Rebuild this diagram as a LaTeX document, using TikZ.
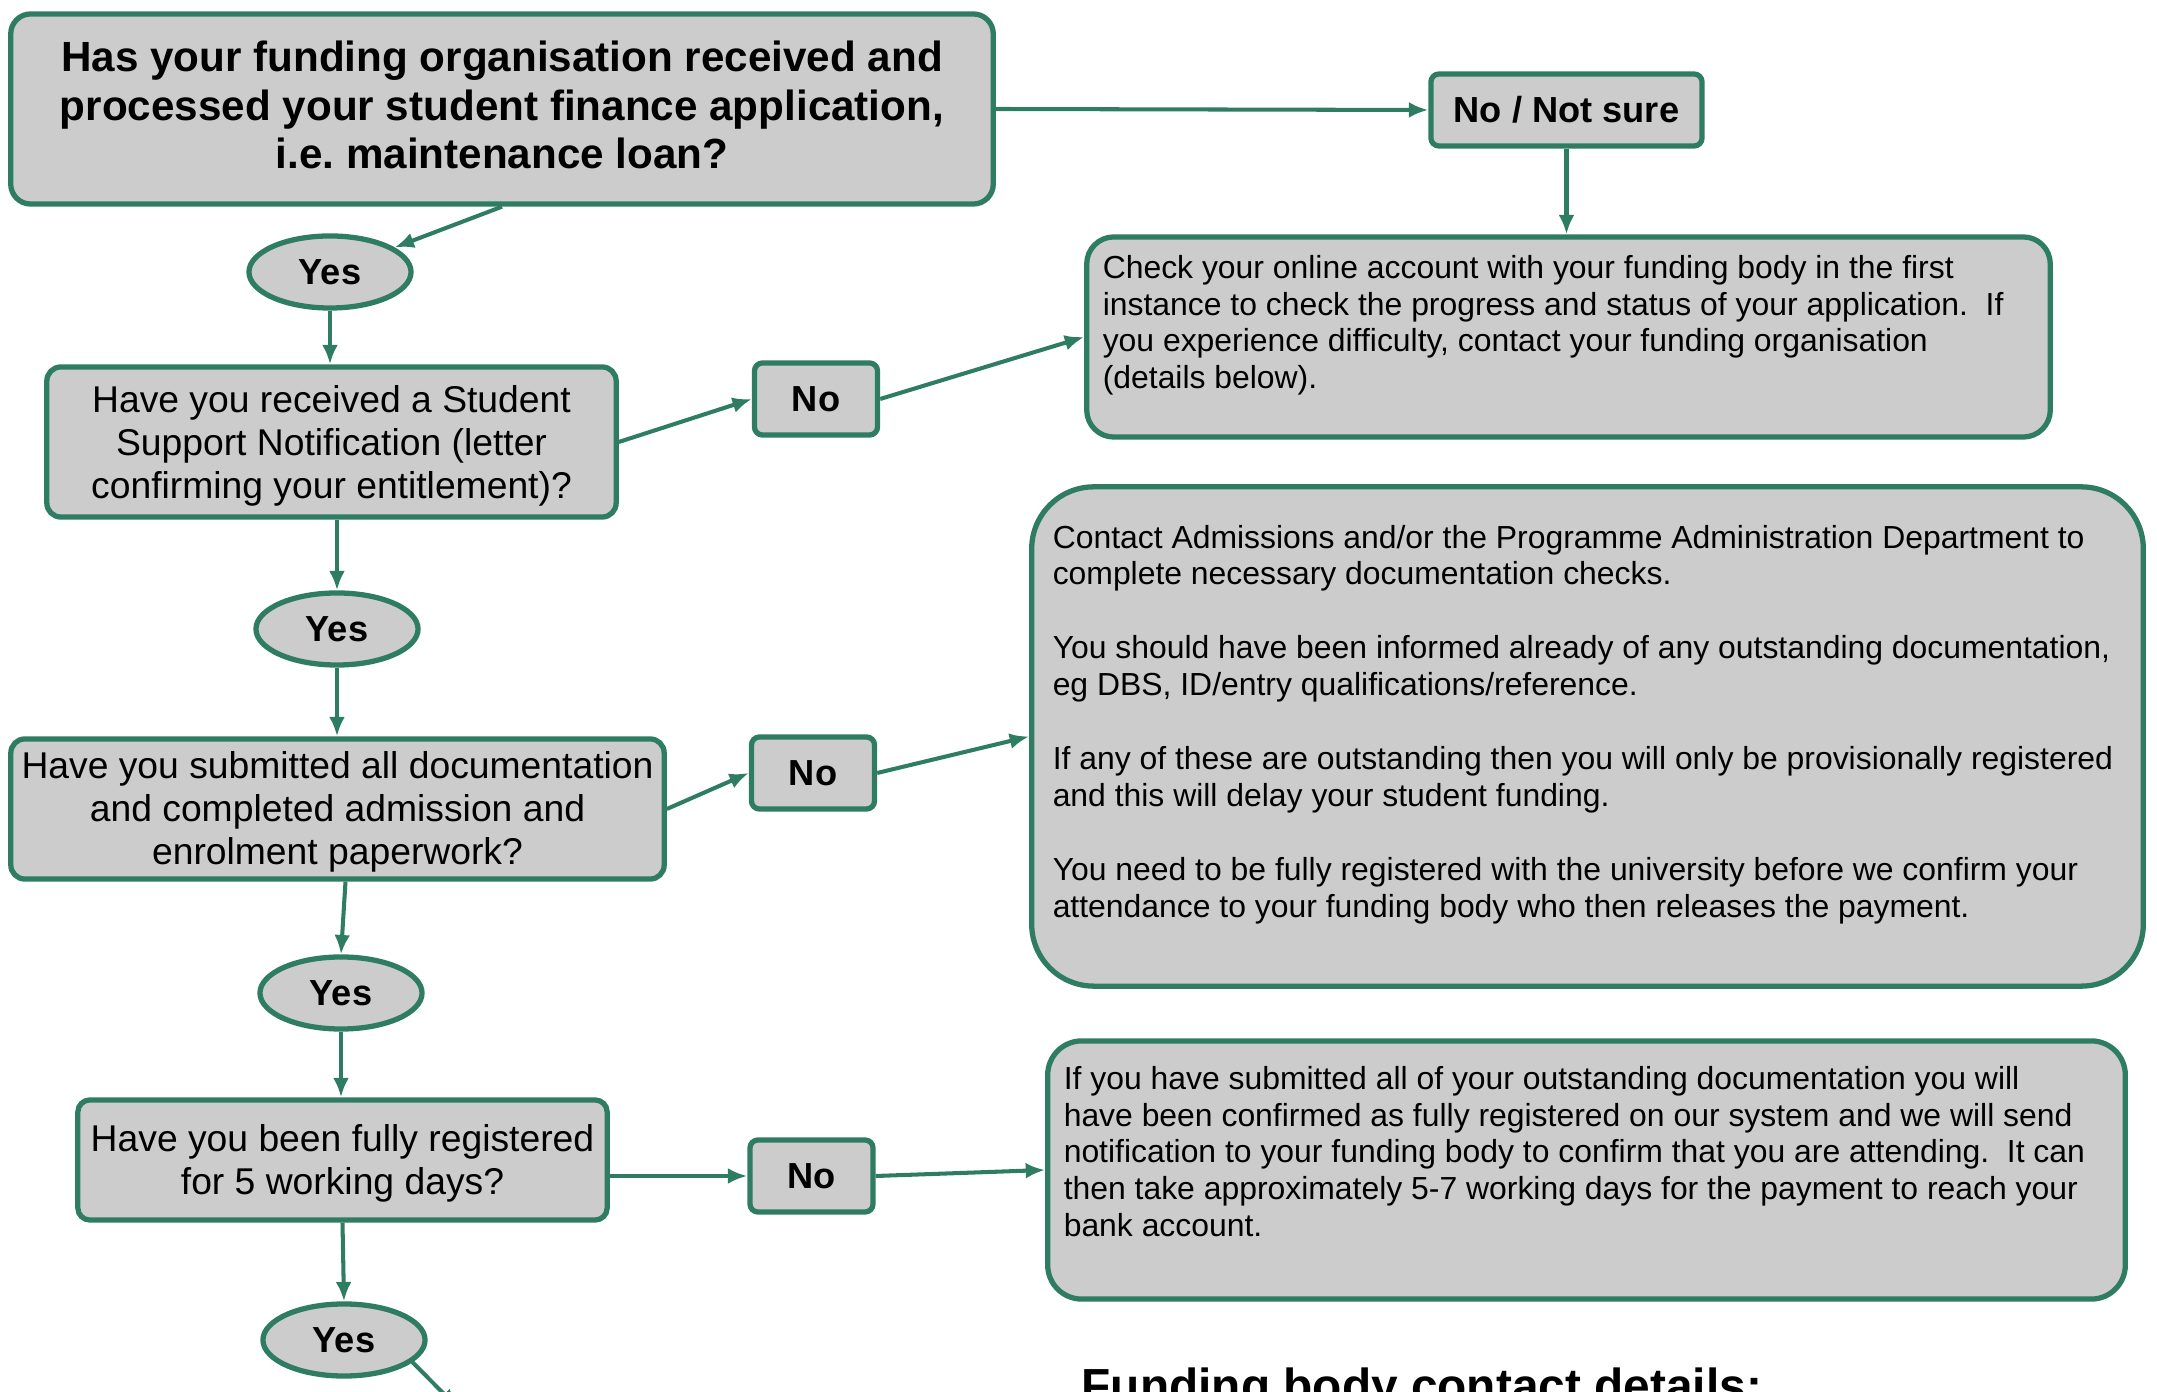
\documentclass[tikz,border=0pt]{standalone}
\usepackage{fontspec}
\setmainfont{Liberation Sans}
\usetikzlibrary{shapes.geometric,arrows.meta,calc}
\definecolor{fgreen}{RGB}{46,125,98}
\definecolor{fgrey}{RGB}{204,204,204}
\begin{document}
\begin{tikzpicture}[x=0.01cm,y=-0.01cm,
  box/.style={draw=fgreen,fill=fgrey,line width=1.5pt,rectangle,inner sep=0pt},
  qtext/.style={align=center,inner sep=0pt,font=\fontsize{10.6}{12.2}\selectfont},
  answer/.style={draw=fgreen,fill=fgrey,line width=1.5pt,rectangle,rounded corners=0.08cm,
     minimum width=1.23cm,minimum height=0.72cm,inner sep=0pt,font=\fontsize{10.3}{12}\selectfont\bfseries},
  yesnode/.style={draw=fgreen,fill=fgrey,line width=1.5pt,ellipse,minimum width=1.62cm,
     minimum height=0.72cm,inner sep=0pt,font=\fontsize{10.3}{12}\selectfont\bfseries},
  body/.style={align=left,inner sep=0pt,anchor=north west,font=\fontsize{9.07}{10.5}\selectfont},
  conn/.style={draw=fgreen,line width=1.15pt,-{Latex[length=5.5pt,width=4.5pt]}}
]
\useasboundingbox (0,0) rectangle (2157,1392);

% question boxes
\node[box,rounded corners=0.2cm,minimum width=9.82cm,minimum height=1.90cm] (q1) at (502,109) {};
\node[align=center,inner sep=0pt,font=\fontsize{12}{13.7}\selectfont\bfseries] (q1t) at ($(q1.center)+(0,-4)$)
  {Has your funding organisation received and\\ processed your student finance application,\\ i.e.\ maintenance loan?};
\node[box,rounded corners=0.14cm,minimum width=5.69cm,minimum height=1.50cm] (q2) at (331.5,442) {};
\node[qtext] (q2t) at ($(q2.center)+(0,4)$)
  {Have you received a Student\\ Support Notification (letter\\ confirming your entitlement)?};
\node[box,rounded corners=0.14cm,minimum width=6.53cm,minimum height=1.40cm] (q3) at (337.5,809) {};
\node[qtext] (q3t) at ($(q3.center)+(0,3)$)
  {Have you submitted all documentation\\ and completed admission and\\ enrolment paperwork?};
\node[box,rounded corners=0.12cm,minimum width=5.29cm,minimum height=1.20cm] (q4) at (342.5,1160) {};
\node[qtext] (q4t) at ($(q4.center)+(0,3)$)
  {Have you been fully registered\\ for 5 working days?};

% answers
\node[answer,minimum width=2.71cm] (ns) at (1566.5,110) {No / Not sure};
\node[yesnode] (y1) at (330,272) {Yes};
\node[answer] (n2) at (816,399) {No};
\node[yesnode] (y2) at (337,629) {Yes};
\node[answer] (n3) at (813,773) {No};
\node[yesnode] (y3) at (341,993) {Yes};
\node[answer] (n4) at (811.5,1176) {No};
\node[yesnode] (y4) at (344,1340) {Yes};

% info boxes
\node[box,rounded corners=0.27cm,minimum width=9.63cm,minimum height=2.00cm] (chk) at (1568.5,337) {};
\node[body] (chkt) at ($(chk.north west)+(18,20)$)
  {Check your online account with your funding body in the first\\
   instance to check the progress and status of your application.\ \ If\\
   you experience difficulty, contact your funding organisation\\
   (details below).};

\node[box,rounded corners=0.62cm,minimum width=11.11cm,minimum height=4.99cm] (big) at (1587.5,736.5) {};
\node[body] (bigt) at ($(big.north west)+(23,40)$)
  {Contact Admissions and/or the Programme Administration Department to\\
   complete necessary documentation checks.\\[10.5pt]
   You should have been informed already of any outstanding documentation,\\
   eg DBS, ID/entry qualifications/reference.\\[10.5pt]
   If any of these are outstanding then you will only be provisionally registered\\
   and this will delay your student funding.\\[10.5pt]
   You need to be fully registered with the university before we confirm your\\
   attendance to your funding body who then releases the payment.};

\node[box,rounded corners=0.34cm,minimum width=10.77cm,minimum height=2.58cm] (b4) at (1586.5,1170) {};
\node[body] (b4t) at ($(b4.north west)+(18,27)$)
  {If you have submitted all of your outstanding documentation you will\\
   have been confirmed as fully registered on our system and we will send\\
   notification to your funding body to confirm that you are attending.\ \ It can\\
   then take approximately 5-7 working days for the payment to reach your\\
   bank account.};

\node[inner sep=0pt,anchor=north west,font=\fontsize{13.6}{16}\selectfont\bfseries] (fund) at (1081,1367)
  {Funding body contact details:};

% connectors
\draw[conn] (q1.east) -- (ns.west);
\draw[conn] (ns.south) -- (ns.south |- chk.north);
\draw[conn] (q1.south) -- (y1);
\draw[conn] (y1.south) -- (y1.south |- q2.north);
\draw[conn] (q2.east) -- (n2.west);
\draw[conn] (n2.east) -- (chk.west);
\draw[conn] (y2.north |- q2.south) -- (y2.north);
\draw[conn] (y2.south) -- (y2.south |- q3.north);
\draw[conn] (q3.east) -- (n3.west);
\draw[conn] (n3.east) -- (big.west);
\draw[conn] ($(q3.south)+(8,0)$) -- (y3.north);
\draw[conn] (y3.south) -- (y3.south |- q4.north);
\draw[conn] (q4.east |- n4.west) -- (n4.west);
\draw[conn] (n4.east) -- (b4.west);
\draw[conn] (q4.south) -- (y4.north);
\coordinate (off) at (458,1408);
\draw[conn] (y4.-18) -- (off);
\end{tikzpicture}
\end{document}
